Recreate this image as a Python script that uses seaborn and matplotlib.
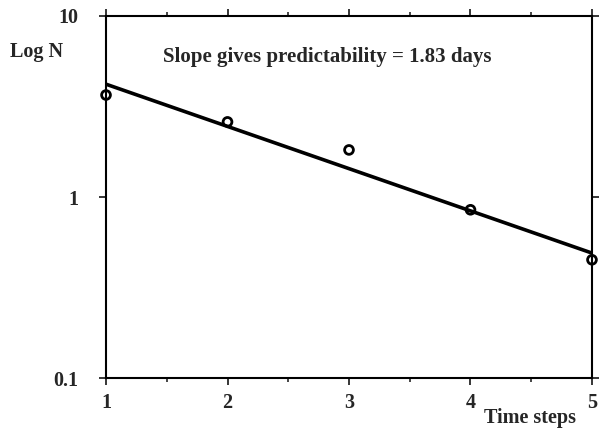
import matplotlib
matplotlib.use("Agg")
import matplotlib.pyplot as plt
import seaborn as sns
import pandas as pd
from matplotlib.ticker import FixedLocator, NullFormatter, NullLocator

time_steps = [1, 2, 3, 4, 5]
log_n = [3.66, 2.6, 1.82, 0.85, 0.45]
fit_x = [1, 5]
fit_y = [4.2, 0.49]
x_ticks = [1, 2, 3, 4, 5]
y_ticks = [0.1, 1, 10]
y_tick_labels = ["0.1", "1", "10"]

sns.set_style("ticks")
plt.rcParams["font.family"] = ["Liberation Serif", "DejaVu Serif"]

fig = plt.figure(figsize=(6.01, 4.30), dpi=100)
ax = fig.add_axes([0.1764, 0.1209, 0.8086, 0.8419])

pts = pd.DataFrame({"t": time_steps, "n": log_n})
fit = pd.DataFrame({"t": fit_x, "n": fit_y})

sns.lineplot(data=fit, x="t", y="n", ax=ax, color="black", linewidth=2.6)
sns.scatterplot(data=pts, x="t", y="n", ax=ax, marker="o", s=40,
                facecolor="none", edgecolor="black", linewidth=2, zorder=5,
                clip_on=False)

ax.set_yscale("log")
ax.set_xlim(1, 5)
ax.set_ylim(0.1, 10)
ax.xaxis.set_major_locator(FixedLocator(x_ticks))
ax.xaxis.set_minor_locator(FixedLocator([1.5, 2.5, 3.5, 4.5]))
ax.yaxis.set_major_locator(FixedLocator(y_ticks))
ax.yaxis.set_minor_locator(NullLocator())
ax.yaxis.set_minor_formatter(NullFormatter())
ax.set_xticklabels([str(v) for v in x_ticks])
ax.set_yticklabels(y_tick_labels)

for s in ax.spines.values():
    s.set_visible(True)
    s.set_linewidth(1.5)
    s.set_color("black")

ax.tick_params(axis="both", which="major", direction="out", length=5, width=1.3,
               labelsize=14.5, top=True, right=True, pad=6)
ax.tick_params(axis="y", which="major", pad=15)
ax.tick_params(axis="x", which="minor", direction="out", length=3, width=1.2,
               top=True, bottom=True)
for lab in ax.get_xticklabels() + ax.get_yticklabels():
    lab.set_fontweight("bold")

ax.set_xlabel("")
ax.set_ylabel("")
fig.text(10 / 601, 1 - 52 / 430, "Log N", fontsize=14.5, fontweight="bold",
         ha="left", va="center")
fig.text(576 / 601, 1 - 418 / 430, "Time steps", fontsize=14.5, fontweight="bold",
         ha="right", va="center")
ax.text(0.117, 0.887, "Slope gives predictability = 1.83 days",
        transform=ax.transAxes, fontsize=15, fontweight="bold",
        ha="left", va="center")

fig.savefig("out.png", dpi=100)
